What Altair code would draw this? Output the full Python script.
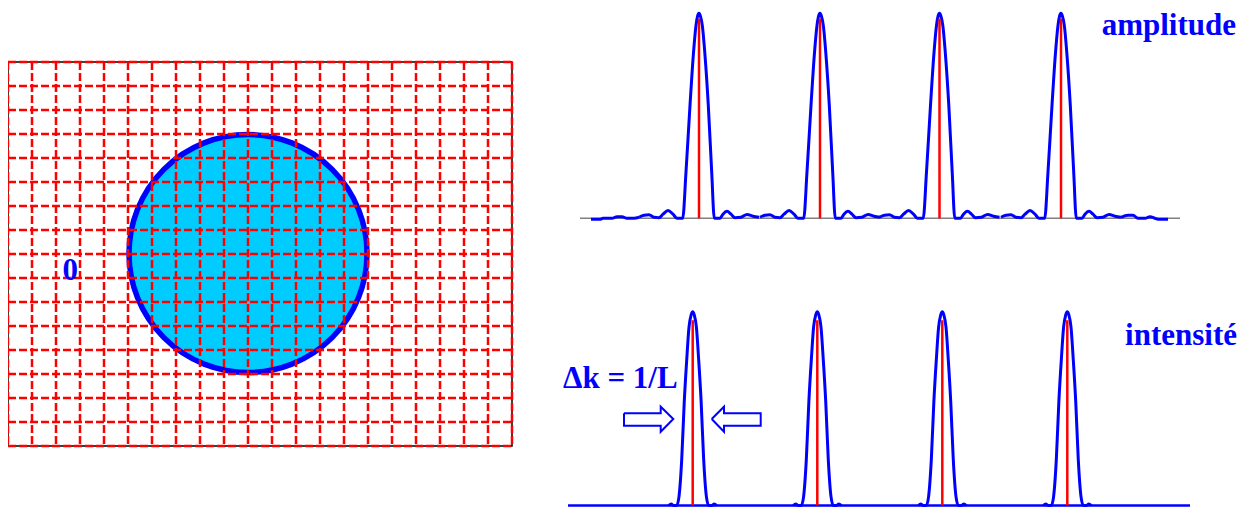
import altair as alt
import pandas as pd

# ---------------- left diagram: grid + disc ----------------
GRID_X = [8, 32, 56, 80, 104, 128, 152, 176, 200, 224, 248, 272, 296, 320,
          344, 368, 392, 416, 440, 464, 488, 512]
GRID_Y = [62, 86, 110, 134, 158, 182, 206, 230, 254, 278, 302, 326, 350,
          374, 398, 422, 446]
DISC_CENTER_X = [248]
DISC_CENTER_Y = [253.5]

# ---------------- right diagram: peaks ----------------
AMP_PEAKS_X = [699, 820, 939.5, 1061]
INT_PEAKS_X = [692.7, 817.3, 942.3, 1067.3]

# amplitude profile around one peak (dx in px, relative height)
AMP_DX = [-60, -55, -50, -45, -40, -36, -31, -26, -22, -16.3, -13, -9, -5.7,
          -3, -1.5, 0, 1.5, 3.3, 6, 9.3, 12.7, 15.3, 21, 24, 28, 32, 36, 42,
          48, 54, 60]
AMP_H = [0.005, 0.015, 0.017, 0.005, 0.003, 0.02, 0.038, 0.02, 0.0, 0.0,
         0.226, 0.551, 0.795, 0.941, 0.985, 1.0, 0.985, 0.941, 0.795, 0.551,
         0.226, 0.0, 0.0, 0.02, 0.034, 0.02, 0.003, 0.005, 0.019, 0.01, 0.005]
AMP_LEFT_TAIL_X = [591, 600, 603, 612, 617, 622, 627, 634, 639]
AMP_LEFT_TAIL_H = [-0.005, -0.005, 0.0, 0.0, 0.008, 0.008, 0.0, 0.0, 0.005]
AMP_RIGHT_TAIL_X = [1121, 1128, 1133, 1138, 1145, 1150, 1155, 1158, 1168]
AMP_RIGHT_TAIL_H = [0.005, 0.015, 0.015, 0.0, 0.0, 0.008, 0.0, -0.005, -0.005]
AMP_STICK_TOP = [0.974, 0.974, 0.974, 0.974]

# intensity profile around one peak
INT_DX = [-24, -21.5, -19, -16, -13.7, -11, -8.4, -6, -3.7, -1.5, 0, 1.5,
          3.7, 6, 8.4, 11, 13.7, 16, 19, 21.5, 24]
INT_H = [0.0, 0.008, 0.0, 0.0, 0.046, 0.235, 0.54, 0.75, 0.92, 0.985, 1.0,
         0.985, 0.92, 0.75, 0.54, 0.235, 0.046, 0.0, 0.0, 0.008, 0.0]
INT_STICK_TOP = [0.956, 0.956, 0.956, 0.956]

# hollow arrows (polygon vertices)
ARROW_R_X = [624, 660.7, 660.7, 673.3, 660.7, 660.7, 624, 624]
ARROW_R_Y = [413.3, 413.3, 406.7, 419, 431.7, 425.7, 425.7, 413.3]
ARROW_L_X = [711.7, 724, 724, 760.7, 760.7, 724, 724, 711.7]
ARROW_L_Y = [419, 406.7, 413.3, 413.3, 425.7, 425.7, 431.7, 419]

LABELS_LEFT = ["0", "Δk = 1/L"]
LABELS_LEFT_X = [62.5, 563]
LABELS_LEFT_Y = [280, 388]
LABELS_RIGHT = ["amplitude", "intensité"]
LABELS_RIGHT_X = [1236, 1237]
LABELS_RIGHT_Y = [35, 345]

BLUE = "#0000ff"
RED = "#ff0000"

# ---------------- scales ----------------
xs = alt.Scale(domain=[0, 1240], range=[0, 1240])
ys_px = alt.Scale(domain=[0, 507], range=[0, 507])
ys_amp = alt.Scale(domain=[0, 1], range=[218.3, 13.3])
ys_int = alt.Scale(domain=[0, 1], range=[505.5, 311.7])

# ---------------- data tables ----------------
border_df = pd.DataFrame({"x": [GRID_X[0]], "x2": [GRID_X[-1]],
                          "y": [GRID_Y[0]], "y2": [GRID_Y[-1]]})
vgrid_df = pd.DataFrame({"x": GRID_X, "y": GRID_Y[0], "y2": GRID_Y[-1]})
hgrid_df = pd.DataFrame({"y": GRID_Y, "x": GRID_X[0], "x2": GRID_X[-1]})
disc_df = pd.DataFrame({"x": DISC_CENTER_X, "y": DISC_CENTER_Y})

amp_rows = []
for i, p in enumerate(AMP_PEAKS_X):
    for j, (dx, h) in enumerate(zip(AMP_DX, AMP_H)):
        amp_rows.append({"s": f"p{i}", "o": j, "x": p + dx, "h": h})
for j, (x, h) in enumerate(zip(AMP_LEFT_TAIL_X, AMP_LEFT_TAIL_H)):
    amp_rows.append({"s": "left", "o": j, "x": x, "h": h})
for j, (x, h) in enumerate(zip(AMP_RIGHT_TAIL_X, AMP_RIGHT_TAIL_H)):
    amp_rows.append({"s": "right", "o": j, "x": x, "h": h})
amp_df = pd.DataFrame(amp_rows)

int_rows = []
for i, p in enumerate(INT_PEAKS_X):
    for j, (dx, h) in enumerate(zip(INT_DX, INT_H)):
        int_rows.append({"s": f"p{i}", "o": j, "x": p + dx, "h": h})
int_df = pd.DataFrame(int_rows)

amp_stick_df = pd.DataFrame({"x": AMP_PEAKS_X, "lo": 0.0, "hi": AMP_STICK_TOP})
int_stick_df = pd.DataFrame({"x": INT_PEAKS_X, "lo": 0.0, "hi": INT_STICK_TOP})
amp_base_df = pd.DataFrame({"x": [580], "x2": [1180], "h": [0.0]})
int_base_df = pd.DataFrame({"x": [568], "x2": [1190], "h": [0.0]})

arrow_rows = []
for name, xs_, ys_ in (("r", ARROW_R_X, ARROW_R_Y), ("l", ARROW_L_X, ARROW_L_Y)):
    for j, (x, y) in enumerate(zip(xs_, ys_)):
        arrow_rows.append({"a": name, "o": j, "x": x, "y": y})
arrow_df = pd.DataFrame(arrow_rows)

lab_l_df = pd.DataFrame({"t": LABELS_LEFT, "x": LABELS_LEFT_X, "y": LABELS_LEFT_Y})
lab_r_df = pd.DataFrame({"t": LABELS_RIGHT, "x": LABELS_RIGHT_X, "y": LABELS_RIGHT_Y})

X = lambda f="x": alt.X(f"{f}:Q", scale=xs, axis=None)

# ---------------- layers ----------------
border = alt.Chart(border_df).mark_rect(fill="white", stroke="black", strokeWidth=1.5).encode(
    x=X(), x2="x2:Q", y=alt.Y("y:Q", scale=ys_px, axis=None), y2="y2:Q")

disc = alt.Chart(disc_df).mark_point(
    shape="circle", filled=True, size=238 ** 2, fill="#00ccff", stroke=BLUE,
    strokeWidth=5.5, opacity=1, fillOpacity=1, strokeOpacity=1).encode(
    x=X(), y=alt.Y("y:Q", scale=ys_px, axis=None))

vgrid = alt.Chart(vgrid_df).mark_rule(color=RED, strokeWidth=2.5, strokeDash=[8, 3]).encode(
    x=X(), y=alt.Y("y:Q", scale=ys_px, axis=None), y2="y2:Q")
hgrid = alt.Chart(hgrid_df).mark_rule(color=RED, strokeWidth=2.5, strokeDash=[8, 3]).encode(
    x=X(), x2="x2:Q", y=alt.Y("y:Q", scale=ys_px, axis=None))

amp_base = alt.Chart(amp_base_df).mark_rule(color="#808080", strokeWidth=1.5).encode(
    x=X(), x2="x2:Q", y=alt.Y("h:Q", scale=ys_amp, axis=None))
amp_line = alt.Chart(amp_df).mark_line(
    color=BLUE, strokeWidth=3, interpolate="monotone", strokeJoin="round").encode(
    x=X(), y=alt.Y("h:Q", scale=ys_amp, axis=None), detail="s:N", order="o:Q")
amp_stick = alt.Chart(amp_stick_df).mark_rule(color=RED, strokeWidth=2.5).encode(
    x=X(), y=alt.Y("lo:Q", scale=ys_amp, axis=None), y2="hi:Q")

int_base = alt.Chart(int_base_df).mark_rule(color=BLUE, strokeWidth=2.5).encode(
    x=X(), x2="x2:Q", y=alt.Y("h:Q", scale=ys_int, axis=None))
int_line = alt.Chart(int_df).mark_line(
    color=BLUE, strokeWidth=3, interpolate="monotone", strokeJoin="round").encode(
    x=X(), y=alt.Y("h:Q", scale=ys_int, axis=None), detail="s:N", order="o:Q")
int_stick = alt.Chart(int_stick_df).mark_rule(color=RED, strokeWidth=2.5).encode(
    x=X(), y=alt.Y("lo:Q", scale=ys_int, axis=None), y2="hi:Q")

arrows = alt.Chart(arrow_df).mark_line(color=BLUE, strokeWidth=2, strokeJoin="miter").encode(
    x=X(), y=alt.Y("y:Q", scale=ys_px, axis=None), detail="a:N", order="o:Q")

lab_l = alt.Chart(lab_l_df).mark_text(
    align="left", baseline="alphabetic", font="Liberation Serif", fontWeight="bold",
    fontSize=31, color=BLUE).encode(
    x=X(), y=alt.Y("y:Q", scale=ys_px, axis=None), text="t:N")
lab_r = alt.Chart(lab_r_df).mark_text(
    align="right", baseline="alphabetic", font="Liberation Serif", fontWeight="bold",
    fontSize=31, color=BLUE).encode(
    x=X(), y=alt.Y("y:Q", scale=ys_px, axis=None), text="t:N")

chart = alt.layer(
    border, disc, vgrid, hgrid,
    amp_base, amp_line, amp_stick,
    int_line, int_base, int_stick,
    arrows, lab_l, lab_r,
).resolve_scale(y="independent").properties(
    width=1240, height=507,
    autosize=alt.AutoSizeParams(type="none"),
    padding={"left": -8, "top": -8, "right": 0, "bottom": 0},
    background="white",
).configure_view(strokeWidth=0)

chart.save("out.html", embed_options={"renderer": "svg", "actions": False})
